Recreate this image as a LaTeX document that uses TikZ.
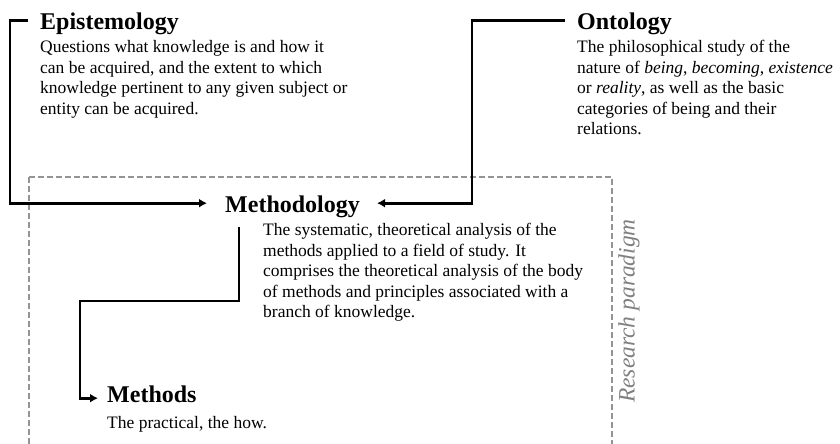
\documentclass[tikz,border=0pt]{standalone}
\usepackage{fontspec}
\setmainfont{Liberation Serif}
\usetikzlibrary{arrows.meta,positioning}

\begin{document}
\begin{tikzpicture}[x=1pt,y=-1pt,
    title/.style={font=\fontsize{24}{26}\selectfont\bfseries,anchor=base west,inner sep=0pt,text depth=5pt},
    desc/.style={font=\fontsize{17.5}{20.5}\selectfont,align=left,inner sep=0pt},
    link/.style={line width=2.8pt,-{Latex[length=8pt,width=9pt]}},
    frame/.style={draw=black!42,line width=1.8pt,dash pattern=on 6pt off 3pt}]
  \useasboundingbox (0,0) rectangle (840,444);

  \node[title] (epi) at (40,30) {Epistemology};
  \node[desc, below right=5pt and 0pt of epi.south west] (epitext)
    {Questions what knowledge is and how it\\
     can be acquired, and the extent to which\\
     knowledge pertinent to any given subject or\\
     entity can be acquired.};

  \node[title] (onto) at (577,30) {Ontology};
  \node[desc, below right=5pt and 0pt of onto.south west] (ontotext)
    {The philosophical study of the\\
     nature of \textit{being}, \textit{becoming}, \textit{existence}\\
     or \textit{reality}, as well as the basic\\
     categories of being and their\\
     relations.};

  \node[title] (meth) at (225,212) {Methodology};
  \node[desc, below right=6pt and 38pt of meth.south west] (methtext)
    {The systematic, theoretical analysis of the\\
     methods applied to a field of study. It\\
     comprises the theoretical analysis of the body\\
     of methods and principles associated with a\\
     branch of knowledge.};

  \node[title] (mtds) at (107,402) {Methods};
  \node[desc, below right=9pt and 0pt of mtds.south west] (mtdstext)
    {The practical, the how.};

  \draw[frame] (29,177) rectangle (612,470);
  \node[rotate=90,text=black!50,font=\fontsize{23.5}{26}\selectfont\itshape] (paradigm)
    at (629,311) {Research paradigm};

  \coordinate (turn) at (80,301);
  \draw[link] ([xshift=-12pt,yshift=4pt]epi.west) -- ++(-18pt,0) |- ([xshift=-18pt,yshift=3pt]meth.west);
  \draw[link] ([xshift=-12pt,yshift=4pt]onto.west) -- ++(-93pt,0) |- ([xshift=17pt,yshift=3pt]meth.east);
  \draw[link] ([xshift=14pt,yshift=-10pt]meth.south west) |- (turn) |- ([xshift=-9pt,yshift=-2pt]mtds.west);
\end{tikzpicture}
\end{document}
